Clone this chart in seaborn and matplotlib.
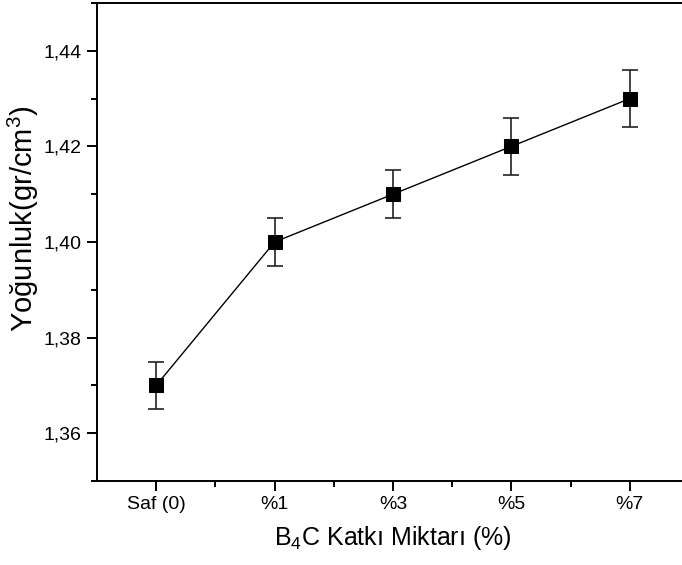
import matplotlib
matplotlib.use("Agg")
import matplotlib.pyplot as plt
import seaborn as sns
import pandas as pd
from matplotlib.ticker import FuncFormatter, MultipleLocator, FixedLocator

categories = ["Saf (0)", "%1", "%3", "%5", "%7"]
density = [1.37, 1.40, 1.41, 1.42, 1.43]
error = [0.005, 0.005, 0.005, 0.006, 0.006]

sns.set_style("white")
plt.rcParams['font.family'] = ['Liberation Sans', 'DejaVu Sans']
plt.rcParams['mathtext.fontset'] = 'custom'
plt.rcParams['mathtext.rm'] = 'Liberation Sans'
plt.rcParams['mathtext.it'] = 'Liberation Sans'
plt.rcParams['text.color'] = 'black'
plt.rcParams['axes.labelcolor'] = 'black'
plt.rcParams['xtick.color'] = 'black'
plt.rcParams['ytick.color'] = 'black'

df = pd.DataFrame({"pos": range(len(categories)), "density": density})

fig = plt.figure(figsize=(6.82, 5.65), dpi=100)
ax = fig.add_axes([97/682, 84/565, 592/682, 478/565])

ax.errorbar(df["pos"], df["density"], yerr=error, fmt="none", ecolor="#222222",
            elinewidth=1.2, capsize=6, capthick=1.2, zorder=2)
sns.lineplot(data=df, x="pos", y="density", ax=ax, color="black", linewidth=1.0,
             marker="s", markersize=10, markeredgecolor="black",
             markerfacecolor="black", zorder=3)

ax.set_xlim(-0.5, 4.5)
ax.set_ylim(1.35, 1.45)
ax.xaxis.set_major_locator(FixedLocator(list(range(len(categories)))))
ax.set_xticklabels(categories)
ax.xaxis.set_minor_locator(FixedLocator([0.5, 1.5, 2.5, 3.5]))
ax.yaxis.set_major_locator(MultipleLocator(0.02))
ax.yaxis.set_major_formatter(FuncFormatter(lambda v, p: f"{v:.2f}".replace(".", ",")))
ax.yaxis.set_minor_locator(FixedLocator([1.35, 1.37, 1.39, 1.41, 1.43, 1.45]))

ax.tick_params(axis="both", which="major", direction="out", length=7, width=1.4,
               labelsize=14, bottom=True, left=True, color="black",
               labelcolor="black", pad=4)
ax.tick_params(axis="both", which="minor", direction="out", length=4, width=1.4,
               bottom=True, left=True, color="black")

for side in ["left", "bottom", "top"]:
    ax.spines[side].set_visible(True)
    ax.spines[side].set_color("black")
    ax.spines[side].set_linewidth(1.4)
ax.spines["right"].set_visible(False)

ax.set_xlabel("B$_4$C Katkı Miktarı (%)", fontsize=18, labelpad=8, color="black")
ax.set_ylabel("Yoğunluk(gr/cm$^3$)", fontsize=21, color="black")
ax.yaxis.set_label_coords(-0.095, 0.548)

fig.savefig("out.png", dpi=100)
